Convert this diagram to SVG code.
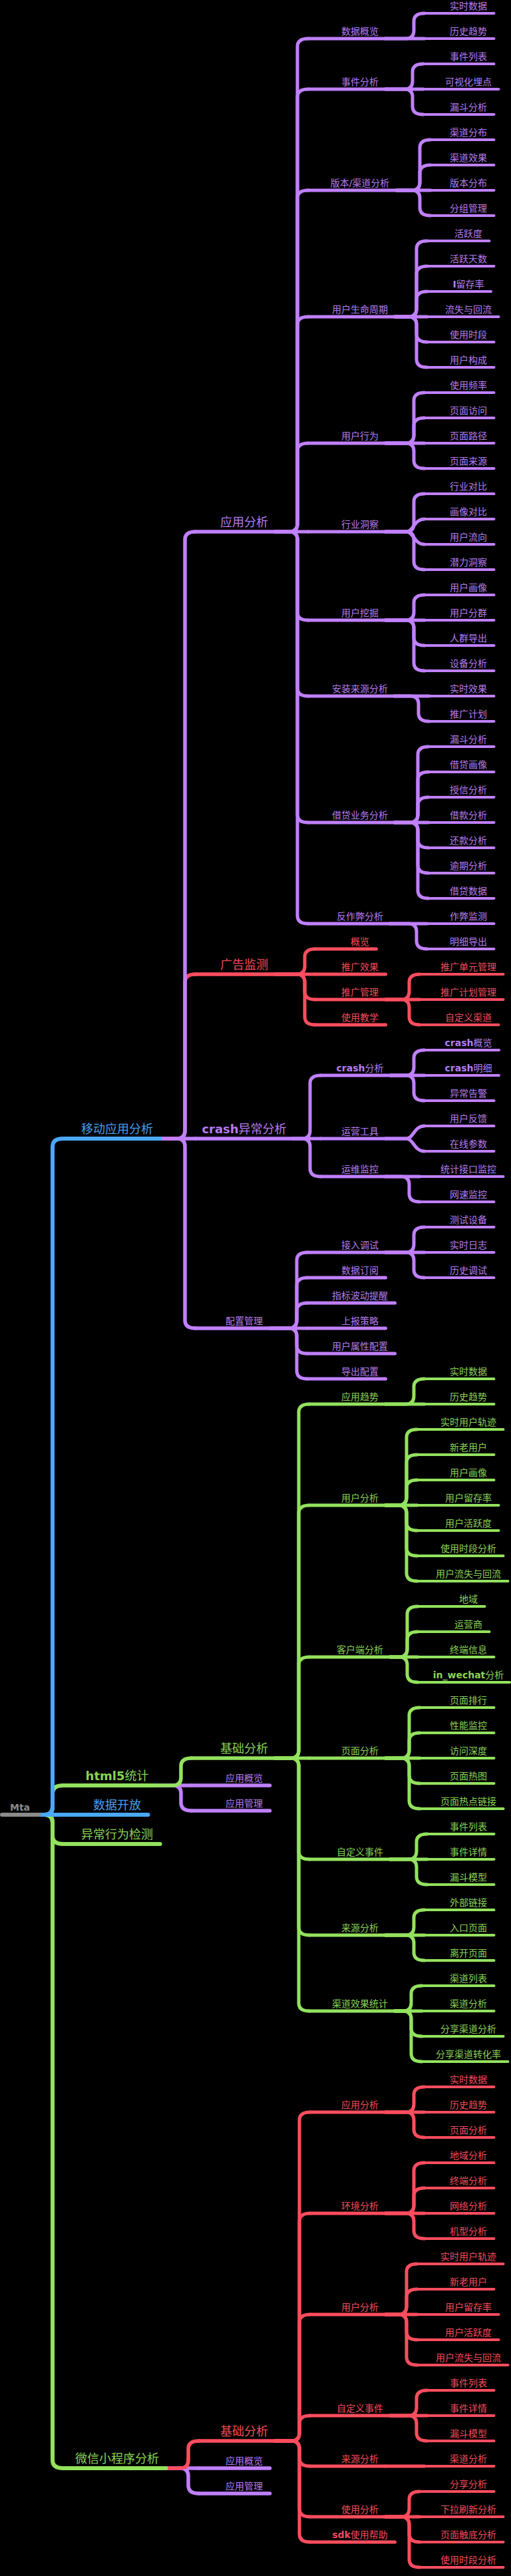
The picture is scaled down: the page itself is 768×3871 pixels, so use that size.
<svg xmlns="http://www.w3.org/2000/svg" width="768" height="3871" viewBox="0 0 768 3871">
<style>
path{fill:none;stroke-linecap:round;stroke-linejoin:round}
text{font-family:'DejaVu Sans','Noto Sans CJK SC',sans-serif;text-anchor:middle;font-size:14px}
.m{font-size:18px}
.b{font-weight:bold}
.P path,path.P{stroke:#c080ff}.P text{fill:#b67cf2}
.R path,path.R{stroke:#ff4d5e}.R text{fill:#f24b5b}
.G path,path.G{stroke:#93e25e}.G text{fill:#88d357}
.B path,path.B{stroke:#4aa8ff}.B text{fill:#45a0f2}
.K path{stroke:#8a8a8a}.K text{fill:#8a8a8a}
.w6{stroke-width:6}.w55{stroke-width:5.5}.w5{stroke-width:5}.w4{stroke-width:4}
</style>
<rect width="768" height="3871" fill="#000"/>
<g id="connectors">
<g class="w6">
<path class="G" d="M59,2727H67Q79,2727 79,2739V3697Q79,3709 95,3709"/>
<path class="G" d="M59,2727H67Q79,2727 79,2739V2759Q79,2771 95,2771"/>
<path class="B" d="M59,2727H95"/>
<path class="G" d="M59,2727H67Q79,2727 79,2715V2695Q79,2683 95,2683"/>
<path class="B" d="M59,2727H67Q79,2727 79,2715V1723Q79,1711 95,1711"/>
</g>
<g class="w55">
<path class="P" d="M240.5,1711H266Q278,1711 278,1723V1984Q278,1996 294,1996"/>
<path class="P" d="M240.5,1711H294"/>
<path class="R" d="M240.5,1711H266Q278,1711 278,1699V1476Q278,1464 294,1464"/>
<path class="P" d="M240.5,1711H266Q278,1711 278,1699V811Q278,799 294,799"/>
<path class="P" d="M233.5,2683H260Q272,2683 272,2695V2709Q272,2721 288,2721"/>
<path class="P" d="M233.5,2683H288"/>
<path class="G" d="M233.5,2683H260Q272,2683 272,2671V2654Q272,2642 288,2642"/>
<path class="P" d="M249.5,3709H271Q283,3709 283,3721V3735Q283,3747 299,3747"/>
<path class="P" d="M249.5,3709H299"/>
<path class="R" d="M249.5,3709H271Q283,3709 283,3697V3680Q283,3668 299,3668"/>
</g>
<g class="w5 P">
<path d="M413.5,799H435Q447,799 447,787V70Q447,58 463,58"/>
<path d="M413.5,799H435Q447,799 447,787V146Q447,134 463,134"/>
<path d="M413.5,799H435Q447,799 447,787V298Q447,286 463,286"/>
<path d="M413.5,799H435Q447,799 447,787V488Q447,476 463,476"/>
<path d="M413.5,799H435Q447,799 447,787V678Q447,666 463,666"/>
<path d="M413.5,799H463"/>
<path d="M413.5,799H435Q447,799 447,811V920Q447,932 463,932"/>
<path d="M413.5,799H435Q447,799 447,811V1034Q447,1046 463,1046"/>
<path d="M413.5,799H435Q447,799 447,811V1224Q447,1236 463,1236"/>
<path d="M413.5,799H435Q447,799 447,811V1376Q447,1388 463,1388"/>
<path d="M441,1711H454Q466,1711 466,1699V1628Q466,1616 482,1616"/>
<path d="M441,1711H482"/>
<path d="M441,1711H454Q466,1711 466,1723V1756Q466,1768 482,1768"/>
<path d="M405.5,1996H434Q446,1996 446,1984V1894Q446,1882 462,1882"/>
<path d="M405.5,1996H434Q446,1996 446,1984V1932Q446,1920 462,1920"/>
<path d="M405.5,1996H434Q446,1996 446,1984V1970Q446,1958 462,1958"/>
<path d="M405.5,1996H462"/>
<path d="M405.5,1996H434Q446,1996 446,2008V2022Q446,2034 462,2034"/>
<path d="M405.5,1996H434Q446,1996 446,2008V2060Q446,2072 462,2072"/>
<path d="M579.5,58H610Q622,58 622,46V32Q622,20 638,20"/>
<path d="M579.5,58H638"/>
<path d="M579.5,134H608Q620,134 620,122V108Q620,96 636,96"/>
<path d="M579.5,134H636"/>
<path d="M579.5,134H608Q620,134 620,146V160Q620,172 636,172"/>
<path d="M596,286H619Q631,286 631,274V222Q631,210 647,210"/>
<path d="M596,286H619Q631,286 631,274V260Q631,248 647,248"/>
<path d="M596,286H647"/>
<path d="M596,286H619Q631,286 631,298V312Q631,324 647,324"/>
<path d="M593.5,476H614Q626,476 626,464V374Q626,362 642,362"/>
<path d="M593.5,476H614Q626,476 626,464V412Q626,400 642,400"/>
<path d="M593.5,476H614Q626,476 626,464V450Q626,438 642,438"/>
<path d="M593.5,476H642"/>
<path d="M593.5,476H614Q626,476 626,488V502Q626,514 642,514"/>
<path d="M593.5,476H614Q626,476 626,488V540Q626,552 642,552"/>
<path d="M579.5,666H610Q622,666 622,654V602Q622,590 638,590"/>
<path d="M579.5,666H610Q622,666 622,654V640Q622,628 638,628"/>
<path d="M579.5,666H638"/>
<path d="M579.5,666H610Q622,666 622,678V692Q622,704 638,704"/>
<path d="M579.5,799H610Q622,799 622,787V754Q622,742 638,742"/>
<path d="M579.5,799H610C622,799 622,780 638,780"/>
<path d="M579.5,799H610C622,799 622,818 638,818"/>
<path d="M579.5,799H610Q622,799 622,811V844Q622,856 638,856"/>
<path d="M579.5,932H610Q622,932 622,920V906Q622,894 638,894"/>
<path d="M579.5,932H638"/>
<path d="M579.5,932H610Q622,932 622,944V958Q622,970 638,970"/>
<path d="M579.5,932H610Q622,932 622,944V996Q622,1008 638,1008"/>
<path d="M593.5,1046H645"/>
<path d="M593.5,1046H617Q629,1046 629,1058V1072Q629,1084 645,1084"/>
<path d="M593.5,1236H616Q628,1236 628,1224V1134Q628,1122 644,1122"/>
<path d="M593.5,1236H616Q628,1236 628,1224V1172Q628,1160 644,1160"/>
<path d="M593.5,1236H616Q628,1236 628,1224V1210Q628,1198 644,1198"/>
<path d="M593.5,1236H644"/>
<path d="M593.5,1236H616Q628,1236 628,1248V1262Q628,1274 644,1274"/>
<path d="M593.5,1236H616Q628,1236 628,1248V1300Q628,1312 644,1312"/>
<path d="M593.5,1236H616Q628,1236 628,1248V1338Q628,1350 644,1350"/>
<path d="M586.5,1388H642"/>
<path d="M586.5,1388H614Q626,1388 626,1400V1414Q626,1426 642,1426"/>
<path d="M587,1616H610Q622,1616 622,1604V1590Q622,1578 638,1578"/>
<path d="M587,1616H638"/>
<path d="M587,1616H610Q622,1616 622,1628V1642Q622,1654 638,1654"/>
<path d="M579.5,1711H610C622,1711 622,1692 638,1692"/>
<path d="M579.5,1711H610C622,1711 622,1730 638,1730"/>
<path d="M579.5,1768H631"/>
<path d="M579.5,1768H603Q615,1768 615,1780V1794Q615,1806 631,1806"/>
<path d="M579.5,1882H610Q622,1882 622,1870V1856Q622,1844 638,1844"/>
<path d="M579.5,1882H638"/>
<path d="M579.5,1882H610Q622,1882 622,1894V1908Q622,1920 638,1920"/>
</g>
<g class="w5 R">
<path d="M413.5,1464H446Q458,1464 458,1452V1438Q458,1426 474,1426"/>
<path d="M413.5,1464H474"/>
<path d="M413.5,1464H446Q458,1464 458,1476V1490Q458,1502 474,1502"/>
<path d="M413.5,1464H446Q458,1464 458,1476V1528Q458,1540 474,1540"/>
<path d="M579.5,1502H603Q615,1502 615,1490V1476Q615,1464 631,1464"/>
<path d="M579.5,1502H631"/>
<path d="M579.5,1502H603Q615,1502 615,1514V1528Q615,1540 631,1540"/>
<path d="M413.5,3668H438Q450,3668 450,3656V3186Q450,3174 466,3174"/>
<path d="M413.5,3668H438Q450,3668 450,3656V3338Q450,3326 466,3326"/>
<path d="M413.5,3668H438Q450,3668 450,3656V3490Q450,3478 466,3478"/>
<path d="M413.5,3668H438Q450,3668 450,3656V3642Q450,3630 466,3630"/>
<path d="M413.5,3668H438Q450,3668 450,3680V3694Q450,3706 466,3706"/>
<path d="M413.5,3668H438Q450,3668 450,3680V3770Q450,3782 466,3782"/>
<path d="M413.5,3668H438Q450,3668 450,3680V3808Q450,3820 466,3820"/>
<path d="M579.5,3174H610Q622,3174 622,3162V3148Q622,3136 638,3136"/>
<path d="M579.5,3174H638"/>
<path d="M579.5,3174H610Q622,3174 622,3186V3200Q622,3212 638,3212"/>
<path d="M579.5,3326H610Q622,3326 622,3314V3262Q622,3250 638,3250"/>
<path d="M579.5,3326H610Q622,3326 622,3314V3300Q622,3288 638,3288"/>
<path d="M579.5,3326H638"/>
<path d="M579.5,3326H610Q622,3326 622,3338V3352Q622,3364 638,3364"/>
<path d="M579.5,3478H599Q611,3478 611,3466V3414Q611,3402 627,3402"/>
<path d="M579.5,3478H599Q611,3478 611,3466V3452Q611,3440 627,3440"/>
<path d="M579.5,3478H627"/>
<path d="M579.5,3478H599Q611,3478 611,3490V3504Q611,3516 627,3516"/>
<path d="M579.5,3478H599Q611,3478 611,3490V3542Q611,3554 627,3554"/>
<path d="M586.5,3630H614Q626,3630 626,3618V3604Q626,3592 642,3592"/>
<path d="M586.5,3630H642"/>
<path d="M586.5,3630H614Q626,3630 626,3642V3656Q626,3668 642,3668"/>
<path d="M579.5,3706H638"/>
<path d="M579.5,3782H603Q615,3782 615,3770V3756Q615,3744 631,3744"/>
<path d="M579.5,3782H631"/>
<path d="M579.5,3782H603Q615,3782 615,3794V3808Q615,3820 631,3820"/>
<path d="M579.5,3782H603Q615,3782 615,3794V3846Q615,3858 631,3858"/>
</g>
<g class="w5 G">
<path d="M413.5,2642H437Q449,2642 449,2630V2122Q449,2110 465,2110"/>
<path d="M413.5,2642H437Q449,2642 449,2630V2274Q449,2262 465,2262"/>
<path d="M413.5,2642H437Q449,2642 449,2630V2502Q449,2490 465,2490"/>
<path d="M413.5,2642H465"/>
<path d="M413.5,2642H437Q449,2642 449,2654V2782Q449,2794 465,2794"/>
<path d="M413.5,2642H437Q449,2642 449,2654V2896Q449,2908 465,2908"/>
<path d="M413.5,2642H437Q449,2642 449,2654V3010Q449,3022 465,3022"/>
<path d="M579.5,2110H610Q622,2110 622,2098V2084Q622,2072 638,2072"/>
<path d="M579.5,2110H638"/>
<path d="M579.5,2262H599Q611,2262 611,2250V2160Q611,2148 627,2148"/>
<path d="M579.5,2262H599Q611,2262 611,2250V2198Q611,2186 627,2186"/>
<path d="M579.5,2262H599Q611,2262 611,2250V2236Q611,2224 627,2224"/>
<path d="M579.5,2262H627"/>
<path d="M579.5,2262H599Q611,2262 611,2274V2288Q611,2300 627,2300"/>
<path d="M579.5,2262H599Q611,2262 611,2274V2326Q611,2338 627,2338"/>
<path d="M579.5,2262H599Q611,2262 611,2274V2364Q611,2376 627,2376"/>
<path d="M586.5,2490H600Q612,2490 612,2478V2426Q612,2414 628,2414"/>
<path d="M586.5,2490H600Q612,2490 612,2478V2464Q612,2452 628,2452"/>
<path d="M586.5,2490H628"/>
<path d="M586.5,2490H600Q612,2490 612,2502V2516Q612,2528 628,2528"/>
<path d="M579.5,2642H603Q615,2642 615,2630V2578Q615,2566 631,2566"/>
<path d="M579.5,2642H603Q615,2642 615,2630V2616Q615,2604 631,2604"/>
<path d="M579.5,2642H631"/>
<path d="M579.5,2642H603Q615,2642 615,2654V2668Q615,2680 631,2680"/>
<path d="M579.5,2642H603Q615,2642 615,2654V2706Q615,2718 631,2718"/>
<path d="M586.5,2794H614Q626,2794 626,2782V2768Q626,2756 642,2756"/>
<path d="M586.5,2794H642"/>
<path d="M586.5,2794H614Q626,2794 626,2806V2820Q626,2832 642,2832"/>
<path d="M579.5,2908H610Q622,2908 622,2896V2882Q622,2870 638,2870"/>
<path d="M579.5,2908H638"/>
<path d="M579.5,2908H610Q622,2908 622,2920V2934Q622,2946 638,2946"/>
<path d="M593.5,3022H606Q618,3022 618,3010V2996Q618,2984 634,2984"/>
<path d="M593.5,3022H634"/>
<path d="M593.5,3022H606Q618,3022 618,3034V3048Q618,3060 634,3060"/>
<path d="M593.5,3022H606Q618,3022 618,3034V3086Q618,3098 634,3098"/>
</g>
</g>
<g id="root" class="K"><path class="w6" d="M3,2727H59"/><text class="b" x="30" y="2721" font-size="17">Mta</text></g>
<g id="n-a" class="B"><path class="w6" d="M95,1711H240.5"/><text class="m" x="176" y="1703">移动应用分析</text></g>
<g id="n-b" class="G"><path class="w6" d="M95,2683H233.5"/><text class="m" x="176" y="2675"><tspan class="b">html5</tspan>统计</text></g>
<g id="n-c" class="B"><path class="w6" d="M95,2727H222.5"/><text class="m" x="176" y="2719">数据开放</text></g>
<g id="n-d" class="G"><path class="w6" d="M95,2771H240.5"/><text class="m" x="176" y="2763">异常行为检测</text></g>
<g id="n-e" class="G"><path class="w6" d="M95,3709H249.5"/><text class="m" x="176" y="3701">微信小程序分析</text></g>
<g id="n-a1" class="P"><path class="w55" d="M294,799H413.5"/><text class="m" x="367" y="791">应用分析</text></g>
<g id="n-a2" class="R"><path class="w55" d="M294,1464H413.5"/><text class="m" x="367" y="1456">广告监测</text></g>
<g id="n-a3" class="P"><path class="w55" d="M294,1711H441"/><text class="m" x="367" y="1703"><tspan class="b">crash</tspan>异常分析</text></g>
<g id="n-a4" class="P"><path class="w55" d="M294,1996H405.5"/><text x="367" y="1990">配置管理</text></g>
<g id="n-b1" class="G"><path class="w55" d="M288,2642H413.5"/><text class="m" x="367" y="2634">基础分析</text></g>
<g id="n-b2" class="P"><path class="w55" d="M288,2683H405.5"/><text x="367" y="2677">应用概览</text></g>
<g id="n-b3" class="P"><path class="w55" d="M288,2721H405.5"/><text x="367" y="2715">应用管理</text></g>
<g id="n-e1" class="R"><path class="w55" d="M299,3668H413.5"/><text class="m" x="367" y="3660">基础分析</text></g>
<g id="n-e2" class="P"><path class="w55" d="M299,3709H405.5"/><text x="367" y="3703">应用概览</text></g>
<g id="n-e3" class="P"><path class="w55" d="M299,3747H405.5"/><text x="367" y="3741">应用管理</text></g>
<g id="n-a1-1" class="P"><path class="w5" d="M463,58H579.5"/><text x="541" y="52">数据概览</text></g>
<g id="n-a1-2" class="P"><path class="w5" d="M463,134H579.5"/><text x="541" y="128">事件分析</text></g>
<g id="n-a1-3" class="P"><path class="w5" d="M463,286H596"/><text x="541" y="280">版本/渠道分析</text></g>
<g id="n-a1-4" class="P"><path class="w5" d="M463,476H593.5"/><text x="541" y="470">用户生命周期</text></g>
<g id="n-a1-5" class="P"><path class="w5" d="M463,666H579.5"/><text x="541" y="660">用户行为</text></g>
<g id="n-a1-6" class="P"><path class="w5" d="M463,799H579.5"/><text x="541" y="793">行业洞察</text></g>
<g id="n-a1-7" class="P"><path class="w5" d="M463,932H579.5"/><text x="541" y="926">用户挖掘</text></g>
<g id="n-a1-8" class="P"><path class="w5" d="M463,1046H593.5"/><text x="541" y="1040">安装来源分析</text></g>
<g id="n-a1-9" class="P"><path class="w5" d="M463,1236H593.5"/><text x="541" y="1230">借贷业务分析</text></g>
<g id="n-a1-10" class="P"><path class="w5" d="M463,1388H586.5"/><text x="541" y="1382">反作弊分析</text></g>
<g id="n-a2-1" class="R"><path class="w5" d="M474,1426H565.5"/><text x="541" y="1420">概览</text></g>
<g id="n-a2-2" class="R"><path class="w5" d="M474,1464H579.5"/><text x="541" y="1458">推广效果</text></g>
<g id="n-a2-3" class="R"><path class="w5" d="M474,1502H579.5"/><text x="541" y="1496">推广管理</text></g>
<g id="n-a2-4" class="R"><path class="w5" d="M474,1540H579.5"/><text x="541" y="1534">使用教学</text></g>
<g id="n-a3-1" class="P"><path class="w5" d="M482,1616H587"/><text x="541" y="1610"><tspan class="b">crash</tspan>分析</text></g>
<g id="n-a3-2" class="P"><path class="w5" d="M482,1711H579.5"/><text x="541" y="1705">运营工具</text></g>
<g id="n-a3-3" class="P"><path class="w5" d="M482,1768H579.5"/><text x="541" y="1762">运维监控</text></g>
<g id="n-a4-1" class="P"><path class="w5" d="M462,1882H579.5"/><text x="541" y="1876">接入调试</text></g>
<g id="n-a4-2" class="P"><path class="w5" d="M462,1920H579.5"/><text x="541" y="1914">数据订阅</text></g>
<g id="n-a4-3" class="P"><path class="w5" d="M462,1958H593.5"/><text x="541" y="1952">指标波动提醒</text></g>
<g id="n-a4-4" class="P"><path class="w5" d="M462,1996H579.5"/><text x="541" y="1990">上报策略</text></g>
<g id="n-a4-5" class="P"><path class="w5" d="M462,2034H593.5"/><text x="541" y="2028">用户属性配置</text></g>
<g id="n-a4-6" class="P"><path class="w5" d="M462,2072H579.5"/><text x="541" y="2066">导出配置</text></g>
<g id="n-b1-1" class="G"><path class="w5" d="M465,2110H579.5"/><text x="541" y="2104">应用趋势</text></g>
<g id="n-b1-2" class="G"><path class="w5" d="M465,2262H579.5"/><text x="541" y="2256">用户分析</text></g>
<g id="n-b1-3" class="G"><path class="w5" d="M465,2490H586.5"/><text x="541" y="2484">客户端分析</text></g>
<g id="n-b1-4" class="G"><path class="w5" d="M465,2642H579.5"/><text x="541" y="2636">页面分析</text></g>
<g id="n-b1-5" class="G"><path class="w5" d="M465,2794H586.5"/><text x="541" y="2788">自定义事件</text></g>
<g id="n-b1-6" class="G"><path class="w5" d="M465,2908H579.5"/><text x="541" y="2902">来源分析</text></g>
<g id="n-b1-7" class="G"><path class="w5" d="M465,3022H593.5"/><text x="541" y="3016">渠道效果统计</text></g>
<g id="n-e1-1" class="R"><path class="w5" d="M466,3174H579.5"/><text x="541" y="3168">应用分析</text></g>
<g id="n-e1-2" class="R"><path class="w5" d="M466,3326H579.5"/><text x="541" y="3320">环境分析</text></g>
<g id="n-e1-3" class="R"><path class="w5" d="M466,3478H579.5"/><text x="541" y="3472">用户分析</text></g>
<g id="n-e1-4" class="R"><path class="w5" d="M466,3630H586.5"/><text x="541" y="3624">自定义事件</text></g>
<g id="n-e1-5" class="R"><path class="w5" d="M466,3706H579.5"/><text x="541" y="3700">来源分析</text></g>
<g id="n-e1-6" class="R"><path class="w5" d="M466,3782H579.5"/><text x="541" y="3776">使用分析</text></g>
<g id="n-e1-7" class="R"><path class="w5" d="M466,3820H593.5"/><text x="541" y="3814"><tspan class="b">sdk</tspan>使用帮助</text></g>
<g id="leaves-a1" class="P">
<g id="l-0"><path class="w4" d="M638,20H742.5"/><text x="704" y="14">实时数据</text></g>
<g id="l-1"><path class="w4" d="M638,58H742.5"/><text x="704" y="52">历史趋势</text></g>
<g id="l-2"><path class="w4" d="M636,96H742.5"/><text x="704" y="90">事件列表</text></g>
<g id="l-3"><path class="w4" d="M636,134H749.5"/><text x="704" y="128">可视化埋点</text></g>
<g id="l-4"><path class="w4" d="M636,172H742.5"/><text x="704" y="166">漏斗分析</text></g>
<g id="l-5"><path class="w4" d="M647,210H742.5"/><text x="704" y="204">渠道分布</text></g>
<g id="l-6"><path class="w4" d="M647,248H742.5"/><text x="704" y="242">渠道效果</text></g>
<g id="l-7"><path class="w4" d="M647,286H742.5"/><text x="704" y="280">版本分布</text></g>
<g id="l-8"><path class="w4" d="M647,324H742.5"/><text x="704" y="318">分组管理</text></g>
<g id="l-9"><path class="w4" d="M642,362H735.5"/><text x="704" y="356">活跃度</text></g>
<g id="l-10"><path class="w4" d="M642,400H742.5"/><text x="704" y="394">活跃天数</text></g>
<g id="l-11"><path class="w4" d="M642,438H738"/><text x="704" y="432"><tspan class="b">I</tspan>留存率</text></g>
<g id="l-12"><path class="w4" d="M642,476H749.5"/><text x="704" y="470">流失与回流</text></g>
<g id="l-13"><path class="w4" d="M642,514H742.5"/><text x="704" y="508">使用时段</text></g>
<g id="l-14"><path class="w4" d="M642,552H742.5"/><text x="704" y="546">用户构成</text></g>
<g id="l-15"><path class="w4" d="M638,590H742.5"/><text x="704" y="584">使用频率</text></g>
<g id="l-16"><path class="w4" d="M638,628H742.5"/><text x="704" y="622">页面访问</text></g>
<g id="l-17"><path class="w4" d="M638,666H742.5"/><text x="704" y="660">页面路径</text></g>
<g id="l-18"><path class="w4" d="M638,704H742.5"/><text x="704" y="698">页面来源</text></g>
<g id="l-19"><path class="w4" d="M638,742H742.5"/><text x="704" y="736">行业对比</text></g>
<g id="l-20"><path class="w4" d="M638,780H742.5"/><text x="704" y="774">画像对比</text></g>
<g id="l-21"><path class="w4" d="M638,818H742.5"/><text x="704" y="812">用户流向</text></g>
<g id="l-22"><path class="w4" d="M638,856H742.5"/><text x="704" y="850">潜力洞察</text></g>
<g id="l-23"><path class="w4" d="M638,894H742.5"/><text x="704" y="888">用户画像</text></g>
<g id="l-24"><path class="w4" d="M638,932H742.5"/><text x="704" y="926">用户分群</text></g>
<g id="l-25"><path class="w4" d="M638,970H742.5"/><text x="704" y="964">人群导出</text></g>
<g id="l-26"><path class="w4" d="M638,1008H742.5"/><text x="704" y="1002">设备分析</text></g>
<g id="l-27"><path class="w4" d="M645,1046H742.5"/><text x="704" y="1040">实时效果</text></g>
<g id="l-28"><path class="w4" d="M645,1084H742.5"/><text x="704" y="1078">推广计划</text></g>
<g id="l-29"><path class="w4" d="M644,1122H742.5"/><text x="704" y="1116">漏斗分析</text></g>
<g id="l-30"><path class="w4" d="M644,1160H742.5"/><text x="704" y="1154">借贷画像</text></g>
<g id="l-31"><path class="w4" d="M644,1198H742.5"/><text x="704" y="1192">授信分析</text></g>
<g id="l-32"><path class="w4" d="M644,1236H742.5"/><text x="704" y="1230">借款分析</text></g>
<g id="l-33"><path class="w4" d="M644,1274H742.5"/><text x="704" y="1268">还款分析</text></g>
<g id="l-34"><path class="w4" d="M644,1312H742.5"/><text x="704" y="1306">逾期分析</text></g>
<g id="l-35"><path class="w4" d="M644,1350H742.5"/><text x="704" y="1344">借贷数据</text></g>
<g id="l-36"><path class="w4" d="M642,1388H742.5"/><text x="704" y="1382">作弊监测</text></g>
<g id="l-37"><path class="w4" d="M642,1426H742.5"/><text x="704" y="1420">明细导出</text></g>
</g>
<g id="leaves-a2" class="R">
<g id="l-38"><path class="w4" d="M631,1464H756.5"/><text x="704" y="1458">推广单元管理</text></g>
<g id="l-39"><path class="w4" d="M631,1502H756.5"/><text x="704" y="1496">推广计划管理</text></g>
<g id="l-40"><path class="w4" d="M631,1540H749.5"/><text x="704" y="1534">自定义渠道</text></g>
</g>
<g id="leaves-a3" class="P">
<g id="l-41"><path class="w4" d="M638,1578H750"/><text x="704" y="1572"><tspan class="b">crash</tspan>概览</text></g>
<g id="l-42"><path class="w4" d="M638,1616H750"/><text x="704" y="1610"><tspan class="b">crash</tspan>明细</text></g>
<g id="l-43"><path class="w4" d="M638,1654H742.5"/><text x="704" y="1648">异常告警</text></g>
<g id="l-44"><path class="w4" d="M638,1692H742.5"/><text x="704" y="1686">用户反馈</text></g>
<g id="l-45"><path class="w4" d="M638,1730H742.5"/><text x="704" y="1724">在线参数</text></g>
<g id="l-46"><path class="w4" d="M631,1768H756.5"/><text x="704" y="1762">统计接口监控</text></g>
<g id="l-47"><path class="w4" d="M631,1806H742.5"/><text x="704" y="1800">网速监控</text></g>
<g id="l-48"><path class="w4" d="M638,1844H742.5"/><text x="704" y="1838">测试设备</text></g>
<g id="l-49"><path class="w4" d="M638,1882H742.5"/><text x="704" y="1876">实时日志</text></g>
<g id="l-50"><path class="w4" d="M638,1920H742.5"/><text x="704" y="1914">历史调试</text></g>
</g>
<g id="leaves-b1" class="G">
<g id="l-54"><path class="w4" d="M638,2072H742.5"/><text x="704" y="2066">实时数据</text></g>
<g id="l-55"><path class="w4" d="M638,2110H742.5"/><text x="704" y="2104">历史趋势</text></g>
<g id="l-56"><path class="w4" d="M627,2148H756.5"/><text x="704" y="2142">实时用户轨迹</text></g>
<g id="l-57"><path class="w4" d="M627,2186H742.5"/><text x="704" y="2180">新老用户</text></g>
<g id="l-58"><path class="w4" d="M627,2224H742.5"/><text x="704" y="2218">用户画像</text></g>
<g id="l-59"><path class="w4" d="M627,2262H749.5"/><text x="704" y="2256">用户留存率</text></g>
<g id="l-60"><path class="w4" d="M627,2300H749.5"/><text x="704" y="2294">用户活跃度</text></g>
<g id="l-61"><path class="w4" d="M627,2338H756.5"/><text x="704" y="2332">使用时段分析</text></g>
<g id="l-62"><path class="w4" d="M627,2376H763.5"/><text x="704" y="2370">用户流失与回流</text></g>
<g id="l-63"><path class="w4" d="M628,2414H728.5"/><text x="704" y="2408">地域</text></g>
<g id="l-64"><path class="w4" d="M628,2452H735.5"/><text x="704" y="2446">运营商</text></g>
<g id="l-65"><path class="w4" d="M628,2490H742.5"/><text x="704" y="2484">终端信息</text></g>
<g id="l-66"><path class="w4" d="M628,2528H766"/><text x="704" y="2522"><tspan class="b">in_wechat</tspan>分析</text></g>
<g id="l-67"><path class="w4" d="M631,2566H742.5"/><text x="704" y="2560">页面排行</text></g>
<g id="l-68"><path class="w4" d="M631,2604H742.5"/><text x="704" y="2598">性能监控</text></g>
<g id="l-69"><path class="w4" d="M631,2642H742.5"/><text x="704" y="2636">访问深度</text></g>
<g id="l-70"><path class="w4" d="M631,2680H742.5"/><text x="704" y="2674">页面热图</text></g>
<g id="l-71"><path class="w4" d="M631,2718H756.5"/><text x="704" y="2712">页面热点链接</text></g>
<g id="l-72"><path class="w4" d="M642,2756H742.5"/><text x="704" y="2750">事件列表</text></g>
<g id="l-73"><path class="w4" d="M642,2794H742.5"/><text x="704" y="2788">事件详情</text></g>
<g id="l-74"><path class="w4" d="M642,2832H742.5"/><text x="704" y="2826">漏斗模型</text></g>
<g id="l-75"><path class="w4" d="M638,2870H742.5"/><text x="704" y="2864">外部链接</text></g>
<g id="l-76"><path class="w4" d="M638,2908H742.5"/><text x="704" y="2902">入口页面</text></g>
<g id="l-77"><path class="w4" d="M638,2946H742.5"/><text x="704" y="2940">离开页面</text></g>
<g id="l-78"><path class="w4" d="M634,2984H742.5"/><text x="704" y="2978">渠道列表</text></g>
<g id="l-79"><path class="w4" d="M634,3022H742.5"/><text x="704" y="3016">渠道分析</text></g>
<g id="l-80"><path class="w4" d="M634,3060H756.5"/><text x="704" y="3054">分享渠道分析</text></g>
<g id="l-81"><path class="w4" d="M634,3098H763.5"/><text x="704" y="3092">分享渠道转化率</text></g>
</g>
<g id="leaves-e1" class="R">
<g id="l-82"><path class="w4" d="M638,3136H742.5"/><text x="704" y="3130">实时数据</text></g>
<g id="l-83"><path class="w4" d="M638,3174H742.5"/><text x="704" y="3168">历史趋势</text></g>
<g id="l-84"><path class="w4" d="M638,3212H742.5"/><text x="704" y="3206">页面分析</text></g>
<g id="l-85"><path class="w4" d="M638,3250H742.5"/><text x="704" y="3244">地域分析</text></g>
<g id="l-86"><path class="w4" d="M638,3288H742.5"/><text x="704" y="3282">终端分析</text></g>
<g id="l-87"><path class="w4" d="M638,3326H742.5"/><text x="704" y="3320">网络分析</text></g>
<g id="l-88"><path class="w4" d="M638,3364H742.5"/><text x="704" y="3358">机型分析</text></g>
<g id="l-89"><path class="w4" d="M627,3402H756.5"/><text x="704" y="3396">实时用户轨迹</text></g>
<g id="l-90"><path class="w4" d="M627,3440H742.5"/><text x="704" y="3434">新老用户</text></g>
<g id="l-91"><path class="w4" d="M627,3478H749.5"/><text x="704" y="3472">用户留存率</text></g>
<g id="l-92"><path class="w4" d="M627,3516H749.5"/><text x="704" y="3510">用户活跃度</text></g>
<g id="l-93"><path class="w4" d="M627,3554H763.5"/><text x="704" y="3548">用户流失与回流</text></g>
<g id="l-94"><path class="w4" d="M642,3592H742.5"/><text x="704" y="3586">事件列表</text></g>
<g id="l-95"><path class="w4" d="M642,3630H742.5"/><text x="704" y="3624">事件详情</text></g>
<g id="l-96"><path class="w4" d="M642,3668H742.5"/><text x="704" y="3662">漏斗模型</text></g>
<g id="l-97"><path class="w4" d="M638,3706H742.5"/><text x="704" y="3700">渠道分析</text></g>
<g id="l-98"><path class="w4" d="M631,3744H742.5"/><text x="704" y="3738">分享分析</text></g>
<g id="l-99"><path class="w4" d="M631,3782H756.5"/><text x="704" y="3776">下拉刷新分析</text></g>
<g id="l-100"><path class="w4" d="M631,3820H756.5"/><text x="704" y="3814">页面触底分析</text></g>
<g id="l-101"><path class="w4" d="M631,3858H756.5"/><text x="704" y="3852">使用时段分析</text></g>
</g>
</svg>
